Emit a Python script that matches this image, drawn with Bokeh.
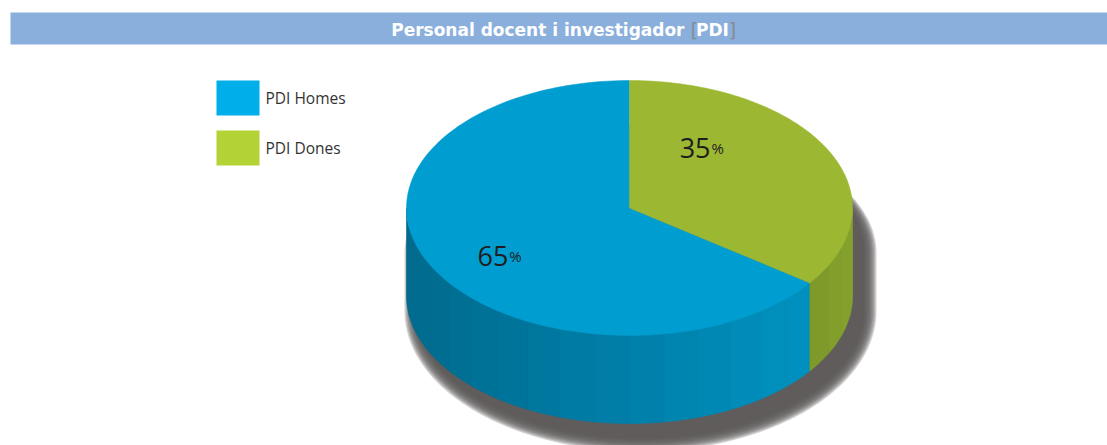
import numpy as np
from bokeh.plotting import figure
from bokeh.models import Range1d
from bokeh.embed import file_html
from bokeh.resources import INLINE
from bokeh.core.properties import value

# ---------------- data ----------------
categories = ["PDI Homes", "PDI Dones"]
values = [65, 35]
title_main = "Personal docent i investigador"
title_abbr = "PDI"

# ---------------- style ----------------
W, H = 1107, 445
TOP_COLORS = ["#009dd0", "#9cb833"]
LEGEND_COLORS = ["#00aee9", "#b3d235"]
SIDE_COLORS = [("#006a8d", "#0091c0"), ("#7c982a", "#86a32e")]
CX, CY, RX, RY, DEPTH = 629.0, 207.5, 223.0, 127.5, 88.0
START_ANGLE = 90.0
LABEL_POLAR = [(219.7, 0.706), (48.0, 0.543)]
LABEL_DY = -9.0
TITLE_FONT = "DejaVu Sans"

p = figure(width=W, height=H, x_range=Range1d(0, W), y_range=Range1d(H, 0),
           output_backend="svg", toolbar_location=None, min_border=0)
p.axis.visible = False
p.grid.visible = False
p.outline_line_color = None
p.background_fill_color = "white"
p.border_fill_color = "white"


def ex(theta_deg, scale=1.0):
    t = np.radians(theta_deg)
    return CX + RX * scale * np.cos(t)


def ey(theta_deg, scale=1.0, dy=0.0):
    t = np.radians(theta_deg)
    return CY - RY * scale * np.sin(t) + dy


def hex2rgb(h):
    return np.array([int(h[i:i + 2], 16) for i in (1, 3, 5)], float)


def rgb2hex(c):
    return "#%02x%02x%02x" % tuple(int(round(v)) for v in c)


# ---------------- title bar ----------------
p.quad(left=10, right=W, top=12, bottom=44, fill_color="#8aafdd", line_color=None)
p.text(x=[684], y=[29], text=[title_main], text_color="white", text_align="right",
       text_baseline="middle", text_font=value(TITLE_FONT), text_font_style="bold",
       text_font_size="17px")
p.text(x=[690], y=[29], text=["["], text_color="#848d97", text_align="left",
       text_baseline="middle", text_font=value(TITLE_FONT), text_font_size="20px")
p.text(x=[712], y=[29], text=[title_abbr], text_color="white", text_align="center",
       text_baseline="middle", text_font=value(TITLE_FONT), text_font_style="bold",
       text_font_size="17px")
p.text(x=[728], y=[29], text=["]"], text_color="#848d97", text_align="left",
       text_baseline="middle", text_font=value(TITLE_FONT), text_font_size="20px")

# ---------------- angles from data ----------------
total = float(sum(values))
spans = [v / total * 360.0 for v in values]
starts = [START_ANGLE + sum(spans[:i]) for i in range(len(values))]
ends = [s + sp for s, sp in zip(starts, spans)]

# ---------------- shadow (soft, offset down-right) ----------------
SH_DX, SH_DY, SH_TOP_DROP = 11.0, 15.0, 30.0
th_top = np.linspace(0, 180, 90)
th_bot = np.linspace(180, 360, 90)
for k in range(10, -1, -1):
    g = k * 1.3
    sx = np.concatenate([CX + (RX + g) * np.cos(np.radians(th_top)),
                         CX + (RX + g) * np.cos(np.radians(th_bot))]) + SH_DX
    sy = np.concatenate([CY + SH_TOP_DROP - RY * np.sin(np.radians(th_top)),
                         CY + DEPTH - (RY + g) * np.sin(np.radians(th_bot))]) + SH_DY
    p.patch(sx, sy, fill_color="#5b5958", fill_alpha=0.27, line_color=None)

# ---------------- side walls ----------------
for i in range(len(values)):
    a0, a1 = starts[i], ends[i]
    segs = []
    for base in (-360, 0, 360):
        lo, hi = max(a0, 180 + base), min(a1, 360 + base)
        if hi > lo:
            segs.append((lo, hi))
    c0, c1 = hex2rgb(SIDE_COLORS[i][0]), hex2rgb(SIDE_COLORS[i][1])
    for lo, hi in segs:
        n = max(2, int((hi - lo) / 9))
        edges = np.linspace(lo, hi, n + 1)
        xs_all, ys_all, cols = [], [], []
        x_lo, x_hi = ex(lo), ex(hi)
        for j in range(n):
            t = np.linspace(edges[j], edges[j + 1], 12)
            xt = ex(t)
            yt = ey(t)
            xs_all.append(list(np.concatenate([xt, xt[::-1]])))
            ys_all.append(list(np.concatenate([yt, (yt + DEPTH)[::-1]])))
            f = (xt.mean() - min(x_lo, x_hi)) / max(1.0, abs(x_hi - x_lo))
            cols.append(rgb2hex(c0 + (c1 - c0) * np.clip(f, 0, 1)))
        p.patches(xs_all, ys_all, fill_color=cols, line_color=cols, line_width=0.6)

# ---------------- top face ----------------
for i in range(len(values)):
    t = np.linspace(starts[i], ends[i], 160)
    xs = np.concatenate([[CX], ex(t)])
    ys = np.concatenate([[CY], ey(t)])
    p.patch(xs, ys, fill_color=TOP_COLORS[i], line_color=TOP_COLORS[i], line_width=0.5)

# ---------------- labels ----------------
for i in range(len(values)):
    ang, r = LABEL_POLAR[i]
    lx, ly = ex(ang, r), ey(ang, r) + LABEL_DY
    p.text(x=[lx], y=[ly], text=[str(values[i])], text_align="right", text_baseline="alphabetic",
           text_color="#1e1e1e", text_font=value("Open Sans"), text_font_size="27px")
    p.text(x=[lx + 1], y=[ly], text=["%"], text_align="left", text_baseline="alphabetic",
           text_color="#1e1e1e", text_font=value("Open Sans"), text_font_size="15px")

# ---------------- legend ----------------
for i, name in enumerate(categories):
    top = 80 + i * 50
    p.quad(left=216, right=259, top=top, bottom=top + 35, fill_color=LEGEND_COLORS[i], line_color=None)
    p.text(x=[265], y=[top + 17.5], text=[name], text_align="left", text_baseline="middle",
           text_color="#333333", text_font=value("Open Sans"), text_font_size="15.5px")

open("out.html", "w").write(file_html(p, INLINE))
